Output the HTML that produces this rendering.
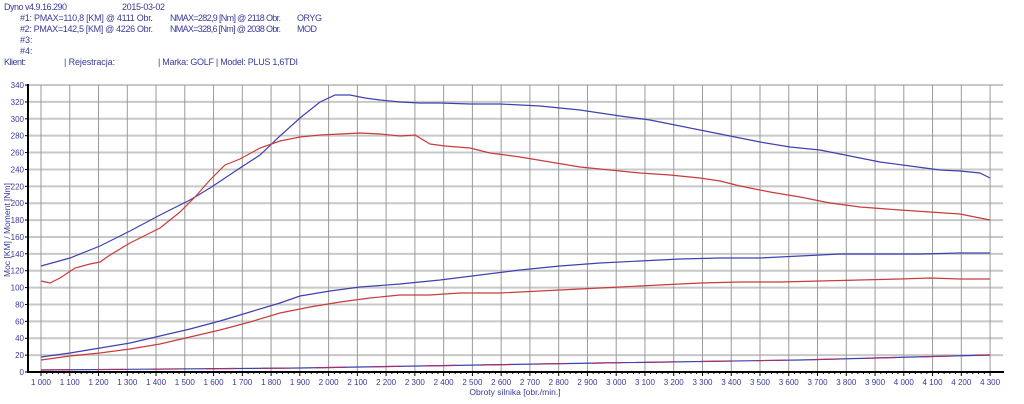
<!DOCTYPE html><html><head><style>body{margin:0;background:#fff;}svg{display:block}text{font-family:"Liberation Sans",sans-serif;}</style></head><body>
<svg width="1024" height="404" xmlns="http://www.w3.org/2000/svg">
<g font-size="9" fill="#3a3a9a" lengthAdjust="spacingAndGlyphs">
<text x="4" y="10" textLength="63">Dyno v4.9.16.290</text><text x="122" y="10" textLength="43">2015-03-02</text>
<text x="20" y="21" textLength="133">#1: PMAX=110,8 [KM] @ 4111 Obr.</text><text x="170" y="21" textLength="111">NMAX=282,9 [Nm] @ 2118 Obr.</text><text x="297" y="21" textLength="25">ORYG</text>
<text x="20" y="32" textLength="133">#2: PMAX=142,5 [KM] @ 4226 Obr.</text><text x="170" y="32" textLength="111">NMAX=328,6 [Nm] @ 2038 Obr.</text><text x="297" y="32" textLength="20">MOD</text>
<text x="20" y="43">#3:</text><text x="20" y="54">#4:</text>
<text x="4" y="65" textLength="22">Klient:</text><text x="64" y="65" textLength="51">| Rejestracja:</text><text x="158" y="65" textLength="140">| Marka: GOLF | Model: PLUS 1,6TDI</text>
</g>
<g id="grid" stroke="#c8c8c8" stroke-width="2">
</g>
<script>
var g=document.getElementById('grid'),ns='http://www.w3.org/2000/svg',s=document.querySelector('svg');
function el(t,a,p){var e=document.createElementNS(ns,t);for(var k in a)e.setAttribute(k,a[k]);(p||s).appendChild(e);return e;}
for(var v=20;v<=340;v+=20){var y=372-v*0.844;el('line',{x1:28,x2:1003,y1:y,y2:y},g);}
for(var r=1000;r<=4300;r+=100){var x=41+(r-1000)*0.2876;el('line',{x1:x,x2:x,y1:85,y2:372,stroke:'#9a9a9a','stroke-width':1},g);
var tl=el('text',{x:x,y:385,'font-size':8,fill:'#3a3a9a','text-anchor':'middle'});tl.textContent=Math.floor(r/1000)+' '+String(r%1000).padStart(3,'0');
el('line',{x1:x,x2:x,y1:372,y2:376,stroke:'#000'});
for(var m=1;m<5&&r<4300;m++){var xm=x+m*5.75;el('line',{x1:xm,x2:xm,y1:372,y2:374,stroke:'#000'});}}
for(var v=0;v<=340;v+=20){var y=372-v*0.844;var t=el('text',{x:24,y:y+3,'font-size':8,fill:'#3a3a9a','text-anchor':'end'});t.textContent=v;el('line',{x1:25,x2:28,y1:y,y2:y,stroke:'#000'});}
</script>
<line x1="28" y1="84" x2="28" y2="373" stroke="#000" stroke-width="2"/>
<line x1="27" y1="372" x2="1004" y2="372" stroke="#000" stroke-width="2"/>
<text x="515" y="395" font-size="8.5" fill="#3a3a9a" text-anchor="middle">Obroty silnika [obr./min.]</text>
<text transform="translate(10,230) rotate(-90)" font-size="8.5" fill="#3a3a9a" text-anchor="middle">Moc [KM] / Moment [Nm]</text>
<g fill="none" stroke-width="1.2">
<polyline stroke="#4040b0" points="41,266 70,258 100,246 130,231 160,215 190,200 210,188 240,168 260,155 280,136 300,118 320,102 335,95 350,95 365,98 380,100 400,102 420,103 440,103 470,104 500,104 540,106 580,110 620,116 650,120 680,126 700,130 730,136 760,142 790,147 820,150 850,156 880,162 910,166 940,170 960,171 980,173 990,178"/>
<polyline stroke="#c83c3c" points="41,281 50,283 60,278 75,268 90,264 100,262 110,255 130,243 160,228 180,212 195,197 210,180 225,165 240,159 260,148 280,141 300,137 320,135 340,134 360,133 380,134 400,136 415,135 430,144 445,146 470,148 490,153 520,157 550,162 580,167 610,170 640,173 670,175 700,178 720,181 740,186 770,192 800,197 830,203 860,207 900,210 930,212 960,214 990,220"/>
<polyline stroke="#4040b0" points="41,357 70,353 100,348 130,343 160,336 190,329 220,321 250,312 280,303 300,296 330,291 360,287 400,284 440,280 480,275 520,270 560,266 600,263 640,261 680,259 720,258 760,258 800,256 840,254 880,254 920,254 960,253 990,253"/>
<polyline stroke="#c83c3c" points="41,360 70,356 100,353 130,349 160,344 190,337 220,330 250,322 280,313 310,307 340,302 370,298 400,295 430,295 460,293 500,293 540,291 580,289 620,287 660,285 700,283 740,282 780,282 820,281 860,280 900,279 930,278 960,279 990,279"/>
<polyline stroke="#4040b0" points="41,370 300,368 600,363 800,360 990,355"/>
<polyline stroke="#a03070" stroke-dasharray="30,25" points="41,370 300,368 600,363 800,360 990,355"/>
</g>
</svg></body></html>
